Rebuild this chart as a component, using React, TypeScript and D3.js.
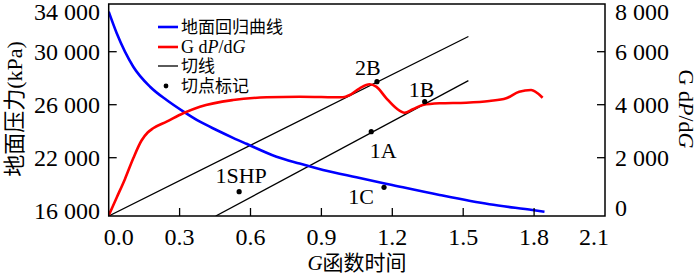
import React from "react";
import * as d3 from "d3";

// ---------- data ----------
const gTicks = [0, 0.3, 0.6, 0.9, 1.2, 1.5, 1.8, 2.1];
const gTickLabels = ["0.0", "0.3", "0.6", "0.9", "1.2", "1.5", "1.8", "2.1"];
const leftTickValues = [18000, 22000, 26000, 30000, 34000];
const leftTickLabels = ["16 000", "22 000", "26 000", "30 000", "34 000"];
const rightTickValues = [0, 2000, 4000, 6000, 8000];
const rightTickLabels = ["0", "2 000", "4 000", "6 000", "8 000"];

// ground pressure regression curve (left axis, kPa)
const pressureG = [0, 0.034, 0.104, 0.175, 0.245, 0.315, 0.386, 0.456, 0.526, 0.583, 0.71, 0.808, 0.907, 1.048, 1.189, 1.4, 1.611, 1.793, 1.844];
const pressureV = [33019, 31389, 28868, 27358, 26355, 25500, 24717, 24090, 23500, 23050, 22075, 21560, 21080, 20520, 19980, 19185, 18483, 18053, 17925];

// G dP/dG curve (right axis)
const gdpG = [0, 0.034, 0.069, 0.104, 0.139, 0.165, 0.188, 0.245, 0.315, 0.386, 0.526, 0.668, 0.808, 0.991, 1.02, 1.062, 1.104, 1.132, 1.175, 1.217, 1.252, 1.287, 1.329, 1.4, 1.513, 1.611, 1.682, 1.737, 1.787, 1.815, 1.836];
const gdpV = [-180, 500, 1200, 1980, 2650, 2950, 3110, 3359, 3676, 3925, 4178, 4279, 4302, 4280, 4366, 4619, 4770, 4680, 4242, 3864, 3698, 3827, 3989, 4053, 4076, 4140, 4242, 4491, 4555, 4430, 4264];

// tangent lines (right axis)
const tangentUpperG = [0, 1.522];
const tangentUpperV = [-200, 6574];
const tangentLowerG = [0.453, 1.522];
const tangentLowerV = [-200, 4906];

// tangent point marks (right axis)
const markNames = ["1SHP", "2B", "1B", "1A", "1C"];
const markG = [0.552, 1.135, 1.337, 1.111, 1.165];
const markV = [717, 4868, 4113, 2981, 883];

// label placement for marks (style)
const markLabelOffsets: [number, number][] = [[2, -9], [-9, -7], [-3, -5], [12, 26], [-23, 17]];

const serif = "'Liberation Serif', 'DejaVu Serif', serif";
const cjk = "'Liberation Serif', 'Noto Sans CJK SC', serif";

export default function App() {
  const W = 700, H = 276;
  const left = 108.7, right = 605, top = 4, bottom = 216;
  const x = d3.scaleLinear().domain([0, 2.1]).range([left, right]);
  const yL = d3.scaleLinear().domain([17600, 33600]).range([bottom, top]);
  const yR = d3.scaleLinear().domain([-200, 7800]).range([bottom, top]);

  const lineL = d3.line<number>().x((_, i) => x(pressureG[i])).y((v) => yL(v)).curve(d3.curveMonotoneX);
  const lineR = d3.line<number>().x((_, i) => x(gdpG[i])).y((v) => yR(v)).curve(d3.curveMonotoneX);
  const tUp = d3.line<number>().x((_, i) => x(tangentUpperG[i])).y((v) => yR(v));
  const tLo = d3.line<number>().x((_, i) => x(tangentLowerG[i])).y((v) => yR(v));

  const clamp = (v: number, a: number, b: number) => Math.max(a, Math.min(b, v));
  const tickFont = 24;

  return (
    <svg width={W} height={H} style={{ position: "absolute", left: 0, top: 0, background: "#fff" }}>
      <defs>
        <clipPath id="plot">
          <rect x={left} y={top} width={right - left} height={bottom - top} />
        </clipPath>
      </defs>
      <rect x={0} y={0} width={W} height={H} fill="#fff" />

      <g clipPath="url(#plot)">
        <path d={tUp(tangentUpperV) || ""} fill="none" stroke="#000" strokeWidth={1.3} />
        <path d={tLo(tangentLowerV) || ""} fill="none" stroke="#000" strokeWidth={1.3} />
        <path d={lineL(pressureV) || ""} fill="none" stroke="#0000ff" strokeWidth={2.6} />
        <path d={lineR(gdpV) || ""} fill="none" stroke="#ff0000" strokeWidth={2.6} />
      </g>

      {markNames.map((n, i) => (
        <g key={n}>
          <circle cx={x(markG[i])} cy={yR(markV[i])} r={2.6} fill="#000" />
          <text x={x(markG[i]) + markLabelOffsets[i][0]} y={yR(markV[i]) + markLabelOffsets[i][1]}
            textAnchor="middle" fontFamily={serif} fontSize={22} fill="#000">{n}</text>
        </g>
      ))}

      {/* frame */}
      <rect x={left} y={top} width={right - left} height={bottom - top} fill="none" stroke="#000" strokeWidth={1.5} />

      {/* x ticks */}
      {gTicks.map((t, i) => (
        <g key={"x" + i}>
          {i > 0 && i < gTicks.length - 1 && (
            <line x1={x(t)} x2={x(t)} y1={bottom} y2={bottom - 8} stroke="#000" strokeWidth={1.3} />
          )}
          <text x={clamp(x(t), left + 10, right - 11)} y={245} textAnchor="middle"
            fontFamily={serif} fontSize={tickFont}>{gTickLabels[i]}</text>
        </g>
      ))}

      {/* left ticks */}
      {leftTickValues.map((v, i) => (
        <g key={"l" + i}>
          {i > 0 && i < leftTickValues.length - 1 && (
            <line x1={left} x2={left + 8} y1={yL(v)} y2={yL(v)} stroke="#000" strokeWidth={1.3} />
          )}
          <text x={100} y={clamp(yL(v), 12, 211) + 8} textAnchor="end"
            fontFamily={serif} fontSize={tickFont}>{leftTickLabels[i]}</text>
        </g>
      ))}

      {/* right ticks */}
      {rightTickValues.map((v, i) => (
        <g key={"r" + i}>
          {i > 0 && i < rightTickValues.length - 1 && (
            <line x1={right} x2={right - 8} y1={yR(v)} y2={yR(v)} stroke="#000" strokeWidth={1.3} />
          )}
          <text x={615} y={clamp(yR(v), 12, 208) + 8} textAnchor="start"
            fontFamily={serif} fontSize={tickFont}>{rightTickLabels[i]}</text>
        </g>
      ))}

      {/* axis titles */}
      <text transform="translate(22,109) rotate(-90)" textAnchor="middle" fontFamily={cjk} fontSize={22}>
        地面压力(kPa)
      </text>
      <text transform="translate(679,109) rotate(90)" textAnchor="middle" fontFamily={serif} fontSize={22}>
        G d<tspan fontStyle="italic">P</tspan>/d<tspan fontStyle="italic">G</tspan>
      </text>
      <text x={357} y={270} textAnchor="middle" fontFamily={cjk} fontSize={21}>
        <tspan fontStyle="italic" fontFamily={serif}>G</tspan>函数时间
      </text>

      {/* legend */}
      <g>
        <line x1={158} x2={178} y1={27} y2={27} stroke="#0000ff" strokeWidth={2.6} />
        <text x={181} y={33} fontFamily={cjk} fontSize={17}>地面回归曲线</text>
        <line x1={158} x2={178} y1={47} y2={47} stroke="#ff0000" strokeWidth={2.6} />
        <text x={181} y={53} fontFamily={serif} fontSize={18}>
          G d<tspan fontStyle="italic">P</tspan>/d<tspan fontStyle="italic">G</tspan>
        </text>
        <line x1={158} x2={178} y1={66} y2={66} stroke="#000" strokeWidth={1.3} />
        <text x={181} y={72} fontFamily={cjk} fontSize={17}>切线</text>
        <circle cx={166} cy={86} r={2.4} fill="#000" />
        <text x={181} y={92} fontFamily={cjk} fontSize={17}>切点标记</text>
      </g>
    </svg>
  );
}
